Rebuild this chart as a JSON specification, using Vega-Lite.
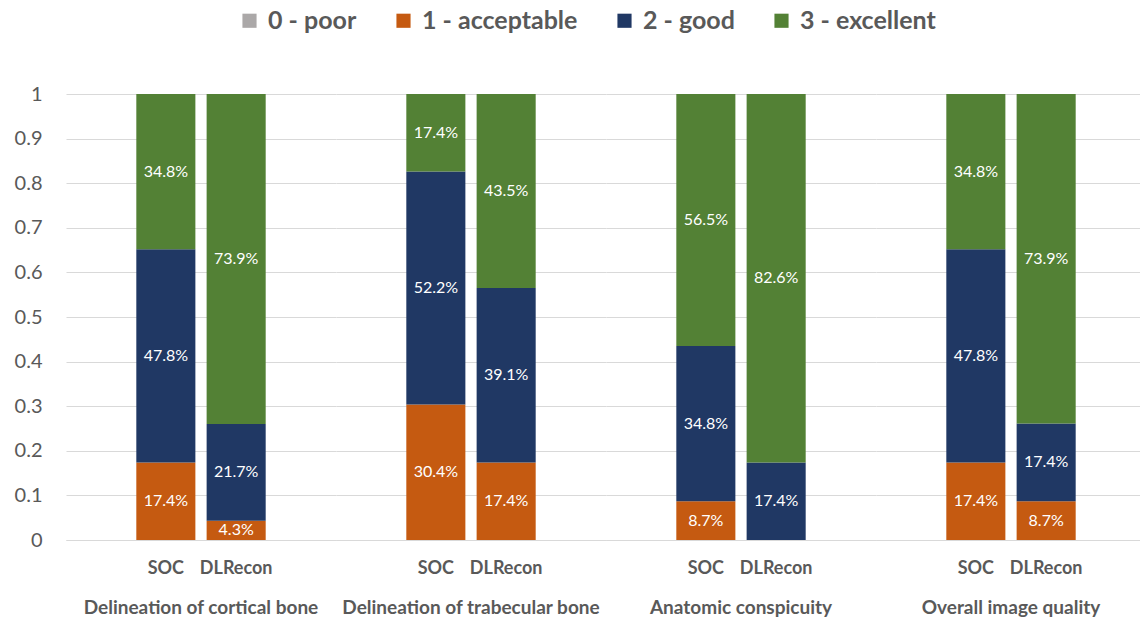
{
  "$schema": "https://vega.github.io/schema/vega-lite/v6.json",
  "padding": {"left": 14, "top": 8, "right": 0, "bottom": 0},
  "background": "white",
  "data": {"values": [
    {"group": "Delineation of cortical bone", "recon": "SOC", "cat": "1 - acceptable", "value": 0.174},
    {"group": "Delineation of cortical bone", "recon": "SOC", "cat": "2 - good", "value": 0.478},
    {"group": "Delineation of cortical bone", "recon": "SOC", "cat": "3 - excellent", "value": 0.348},
    {"group": "Delineation of cortical bone", "recon": "DLRecon", "cat": "1 - acceptable", "value": 0.043},
    {"group": "Delineation of cortical bone", "recon": "DLRecon", "cat": "2 - good", "value": 0.217},
    {"group": "Delineation of cortical bone", "recon": "DLRecon", "cat": "3 - excellent", "value": 0.739},
    {"group": "Delineation of trabecular bone", "recon": "SOC", "cat": "1 - acceptable", "value": 0.304},
    {"group": "Delineation of trabecular bone", "recon": "SOC", "cat": "2 - good", "value": 0.522},
    {"group": "Delineation of trabecular bone", "recon": "SOC", "cat": "3 - excellent", "value": 0.174},
    {"group": "Delineation of trabecular bone", "recon": "DLRecon", "cat": "1 - acceptable", "value": 0.174},
    {"group": "Delineation of trabecular bone", "recon": "DLRecon", "cat": "2 - good", "value": 0.391},
    {"group": "Delineation of trabecular bone", "recon": "DLRecon", "cat": "3 - excellent", "value": 0.435},
    {"group": "Anatomic conspicuity", "recon": "SOC", "cat": "1 - acceptable", "value": 0.087},
    {"group": "Anatomic conspicuity", "recon": "SOC", "cat": "2 - good", "value": 0.348},
    {"group": "Anatomic conspicuity", "recon": "SOC", "cat": "3 - excellent", "value": 0.565},
    {"group": "Anatomic conspicuity", "recon": "DLRecon", "cat": "2 - good", "value": 0.174},
    {"group": "Anatomic conspicuity", "recon": "DLRecon", "cat": "3 - excellent", "value": 0.826},
    {"group": "Overall image quality", "recon": "SOC", "cat": "1 - acceptable", "value": 0.174},
    {"group": "Overall image quality", "recon": "SOC", "cat": "2 - good", "value": 0.478},
    {"group": "Overall image quality", "recon": "SOC", "cat": "3 - excellent", "value": 0.348},
    {"group": "Overall image quality", "recon": "DLRecon", "cat": "1 - acceptable", "value": 0.087},
    {"group": "Overall image quality", "recon": "DLRecon", "cat": "2 - good", "value": 0.174},
    {"group": "Overall image quality", "recon": "DLRecon", "cat": "3 - excellent", "value": 0.739}
  ]},
  "facet": {
    "column": {
      "field": "group",
      "type": "nominal",
      "sort": ["Delineation of cortical bone", "Delineation of trabecular bone", "Anatomic conspicuity", "Overall image quality"],
      "header": {"title": null, "labelOrient": "bottom", "labelFont": "Lato", "labelFontSize": 19, "labelFontWeight": "bold", "labelColor": "#595959", "labelPadding": 22}
    }
  },
  "spacing": 0,
  "spec": {
    "width": 270,
    "height": 446,
    "encoding": {
      "x": {"field": "recon", "type": "nominal", "sort": ["SOC", "DLRecon"], "title": null,
            "scale": {"paddingInner": 0.16, "paddingOuter": 1.07},
            "axis": {"labelAngle": 0, "ticks": false, "domainColor": "#d9d9d9", "labelFont": "Lato", "labelFontSize": 18, "labelFontWeight": "bold", "labelColor": "#595959", "labelPadding": 19}},
      "y": {"field": "value", "type": "quantitative", "stack": "normalize", "title": null,
            "scale": {"domain": [0, 1]},
            "axis": {"values": [0, 0.1, 0.2, 0.3, 0.4, 0.5, 0.6, 0.7, 0.8, 0.9, 1], "labelOverlap": false, "labelExpr": "format(datum.value, '.1~f')", "ticks": false, "domain": false, "gridColor": "#d9d9d9", "labelFont": "Lato", "labelFontSize": 20, "labelColor": "#595959", "labelPadding": 24}},
      "order": {"field": "cat", "type": "ordinal", "sort": "ascending"}
    },
    "layer": [
      {
        "mark": {"type": "bar"},
        "encoding": {
          "color": {"field": "cat", "type": "nominal",
                    "scale": {"domain": ["0 - poor", "1 - acceptable", "2 - good", "3 - excellent"], "range": ["#aba8a8", "#c55a11", "#203864", "#538135"]},
                    "legend": {"title": null, "orient": "none", "legendX": 171, "legendY": -86, "direction": "horizontal", "symbolType": "square", "symbolSize": 200, "symbolStrokeWidth": 0, "labelFont": "Lato", "labelFontSize": 25, "labelFontWeight": "bold", "labelColor": "#595959", "columnPadding": 34, "labelOffset": 6}}
        }
      },
      {
        "mark": {"type": "text", "color": "white", "font": "Lato", "fontSize": 16, "baseline": "middle"},
        "encoding": {
          "y": {"field": "value", "type": "quantitative", "stack": "normalize", "bandPosition": 0.5},
          "text": {"field": "value", "type": "quantitative", "format": ".1%"}
        }
      }
    ]
  },
  "config": {"view": {"stroke": null}}
}
